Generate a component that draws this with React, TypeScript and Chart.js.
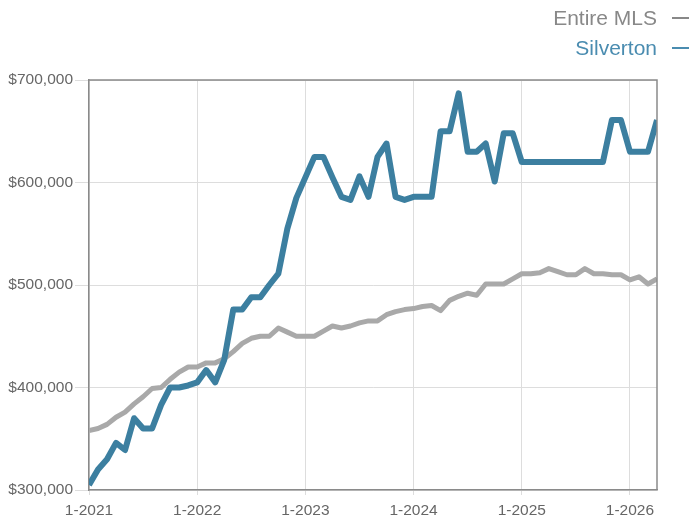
import React, { useEffect, useRef } from "react";
import { Chart, registerables } from "chart.js";

Chart.register(...registerables);

const years = [2021, 2022, 2023, 2024, 2025, 2026];
const months: string[] = [];
for (const y of years) {
  for (let m = 1; m <= 12; m++) {
    if (y === 2026 && m > 4) break;
    months.push(`${m}-${y}`);
  }
}

const silverton = [
  305000, 320000, 330000, 346000, 339000, 370000, 360000, 360000, 383000, 400000, 400000, 402000,
  405000, 417000, 405000, 427000, 476000, 476000, 488000, 488000, 500000, 511000, 555000, 585000,
  605000, 625000, 625000, 605000, 586000, 583000, 606000, 586000, 625000, 638000, 586000, 583000,
  586000, 586000, 586000, 650000, 650000, 687000, 630000, 630000, 638000, 601000, 648000, 648000,
  620000, 620000, 620000, 620000, 620000, 620000, 620000, 620000, 620000, 620000, 661000, 661000,
  630000, 630000, 630000, 661000,
];

const entireMLS = [
  358000, 360000, 364000, 371000, 376000, 384000, 391000, 399000, 400000, 408000, 415000, 420000,
  420000, 424000, 424000, 428000, 435000, 443000, 448000, 450000, 450000, 458000, 454000, 450000,
  450000, 450000, 455000, 460000, 458000, 460000, 463000, 465000, 465000, 471000, 474000, 476000,
  477000, 479000, 480000, 475000, 485000, 489000, 492000, 490000, 501000, 501000, 501000, 506000,
  511000, 511000, 512000, 516000, 513000, 510000, 510000, 516000, 511000, 511000, 510000, 510000,
  505000, 508000, 501000, 506000,
];

const yTicks = { min: 300000, max: 700000, step: 100000 };

const seriesNames = ["Silverton", "Entire MLS"];
const BLUE = "#3c7fa0";
const GRAY = "#a9a9a9";

const boxPlugin = {
  id: "box",
  afterDraw(chart: any) {
    const { ctx, chartArea } = chart;
    ctx.save();
    ctx.strokeStyle = "#8a8a8a";
    ctx.lineWidth = 1.5;
    ctx.beginPath();
    ctx.moveTo(chartArea.left, chartArea.top);
    ctx.lineTo(chartArea.right, chartArea.top);
    ctx.lineTo(chartArea.right, chartArea.bottom);
    ctx.stroke();
    ctx.restore();
  },
};

export default function App() {
  const ref = useRef<HTMLCanvasElement | null>(null);

  useEffect(() => {
    if (!ref.current) return;
    const font = { family: "'Liberation Sans', Arial, Helvetica, sans-serif", size: 15.5 };
    const chart = new Chart(ref.current, {
      type: "line",
      data: {
        labels: months,
        datasets: [
          {
            label: seriesNames[0],
            data: silverton,
            borderColor: BLUE,
            borderWidth: 6,
            pointRadius: 0,
            tension: 0,
            borderJoinStyle: "round",
            clip: 0,
          },
          {
            label: seriesNames[1],
            data: entireMLS,
            borderColor: GRAY,
            borderWidth: 5,
            pointRadius: 0,
            tension: 0,
            borderJoinStyle: "round",
            clip: 0,
          },
        ],
      },
      options: {
        animation: false,
        responsive: false,
        layout: { padding: { left: 0, right: 32, top: 80, bottom: 0 } },
        plugins: {
          legend: { display: false },
          tooltip: { enabled: false },
        },
        scales: {
          x: {
            type: "category",
            offset: false,
            afterFit: (s: any) => {
              s.height = 28;
            },
            grid: {
              color: (c: any) =>
                months[c.index] && months[c.index].startsWith("1-") ? "#dddddd" : "rgba(0,0,0,0)",
              tickLength: 5,
              lineWidth: 1,
            },
            border: { display: true, color: "#8a8a8a", width: 1.5 },
            ticks: {
              autoSkip: false,
              maxRotation: 0,
              padding: 6,
              color: "#666666",
              font,
              callback: (_v: any, i: number) => (months[i].startsWith("1-") ? months[i] : ""),
            },
          },
          y: {
            min: yTicks.min,
            max: yTicks.max,
            afterFit: (s: any) => {
              s.width = 89;
            },
            grid: { color: "#dddddd", tickLength: 14, lineWidth: 1 },
            border: { display: true, color: "#8a8a8a", width: 1.5 },
            ticks: {
              stepSize: yTicks.step,
              padding: 2,
              color: "#666666",
              font,
              callback: (v: any) => "$" + Number(v).toLocaleString("en-US"),
            },
          },
        },
      },
      plugins: [boxPlugin],
    } as any);
    return () => chart.destroy();
  }, []);

  const legendFont = "'Liberation Sans', Arial, Helvetica, sans-serif";
  return (
    <div
      style={{
        position: "absolute",
        left: 0,
        top: 0,
        width: 689,
        height: 518,
        overflow: "hidden",
        background: "#fff",
      }}
    >
      <canvas ref={ref} width={689} height={518} style={{ position: "absolute", left: 0, top: 0 }} />
      <div
        style={{
          position: "absolute",
          right: 32,
          top: 3,
          textAlign: "right",
          fontFamily: legendFont,
          fontSize: 21,
          lineHeight: "30px",
          whiteSpace: "nowrap",
        }}
      >
        <div style={{ color: "#888888" }}>{seriesNames[1]}</div>
        <div style={{ color: "#4a8cb0" }}>{seriesNames[0]}</div>
      </div>
      <div style={{ position: "absolute", left: 672, top: 17, width: 20, height: 2, background: "#888888" }} />
      <div style={{ position: "absolute", left: 672, top: 47, width: 20, height: 2, background: "#4a8cb0" }} />
    </div>
  );
}
